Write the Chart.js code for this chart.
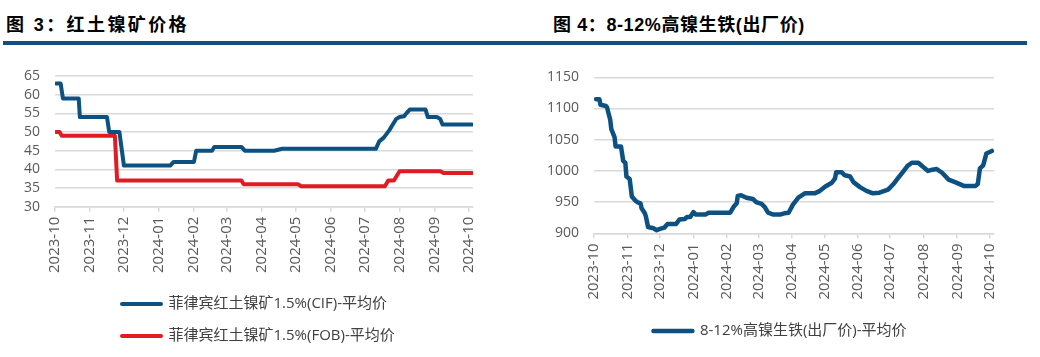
<!DOCTYPE html>
<html><head><meta charset="utf-8">
<script src="https://cdn.jsdelivr.net/npm/chart.js@4.4.1/dist/chart.umd.min.js"></script>
<style>
html,body{margin:0;padding:0;background:#fff;}
body{width:1040px;height:357px;position:relative;overflow:hidden;}
.title{position:absolute;top:15px;line-height:20px;font-weight:bold;font-size:18px;font-family:"Liberation Sans","Noto Sans CJK SC",sans-serif;color:#000;white-space:nowrap;}
.bar{position:absolute;left:3px;width:1024px;top:41px;height:3.5px;background:#0d5183;}
.box{position:absolute;top:50px;width:520px;height:307px;}
</style></head><body>
<div class="title" style="left:6px;letter-spacing:2.4px">图 3：红土镍矿价格</div>
<div class="title" style="left:553px;letter-spacing:0.6px">图 4：8-12%高镍生铁(出厂价)</div>
<div class="bar"></div>
<div class="box" style="left:0"><canvas id="c1" width="520" height="307"></canvas></div>
<div class="box" style="left:520px"><canvas id="c2" width="520" height="307"></canvas></div>
<script>
// ---- data ----
const tickLabels = ['2023-10','2023-11','2023-12','2024-01','2024-02','2024-03','2024-04','2024-05','2024-06','2024-07','2024-08','2024-09','2024-10'];
const oreYTicks = [30,35,40,45,50,55,60,65];
const npiYTicks = [900,950,1000,1050,1100,1150];

const cifName = '菲律宾红土镍矿1.5%(CIF)-平均价';
const cifDates = ['2023-10-02','2023-10-06','2023-10-08','2023-10-22','2023-10-23','2023-11-16','2023-11-18','2023-11-27','2023-12-01','2024-01-11','2024-01-14','2024-02-01','2024-02-03','2024-02-17','2024-02-19','2024-03-14','2024-03-17','2024-04-12','2024-04-19','2024-07-11','2024-07-14','2024-07-18','2024-07-23','2024-07-26','2024-07-29','2024-08-01','2024-08-05','2024-08-07','2024-08-10','2024-08-24','2024-08-26','2024-09-03','2024-09-06','2024-09-08','2024-10-04'];
const cifValues = [63,63,59,59,54,54,50,50,41,41,42,42,45,45,46,46,45,45,45.5,45.5,47.5,48.5,50.5,52,53.5,54,54.2,55,56,56,54,54,53.5,52,52];

const fobName = '菲律宾红土镍矿1.5%(FOB)-平均价';
const fobDates = ['2023-10-02','2023-10-05','2023-10-07','2023-11-23','2023-11-25','2024-03-14','2024-03-16','2024-05-03','2024-05-06','2024-07-19','2024-07-22','2024-07-27','2024-08-01','2024-09-06','2024-09-09','2024-10-04'];
const fobValues = [50,50,49,49,37,37,36,36,35.5,35.5,37,37,39.5,39.5,39,39];

const npiName = '8-12%高镍生铁(出厂价)-平均价';
const npiDates = ['2023-10-03','2023-10-06','2023-10-07','2023-10-12','2023-10-13','2023-10-16','2023-10-17','2023-10-20','2023-10-21','2023-10-26','2023-10-28','2023-10-30','2023-10-31','2023-11-03','2023-11-05','2023-11-08','2023-11-10','2023-11-13','2023-11-14','2023-11-17','2023-11-18','2023-11-20','2023-11-25','2023-11-28','2023-12-01','2023-12-05','2023-12-08','2023-12-16','2023-12-19','2023-12-24','2023-12-26','2023-12-29','2024-01-01','2024-01-03','2024-01-12','2024-01-15','2024-02-04','2024-02-07','2024-02-10','2024-02-11','2024-02-14','2024-02-19','2024-02-25','2024-02-28','2024-03-04','2024-03-07','2024-03-10','2024-03-15','2024-03-21','2024-03-25','2024-03-29','2024-04-02','2024-04-07','2024-04-13','2024-04-22','2024-04-27','2024-05-02','2024-05-08','2024-05-11','2024-05-12','2024-05-17','2024-05-20','2024-05-25','2024-05-28','2024-06-03','2024-06-09','2024-06-15','2024-06-21','2024-06-29','2024-07-04','2024-07-08','2024-07-13','2024-07-17','2024-07-21','2024-07-27','2024-07-31','2024-08-05','2024-08-09','2024-08-13','2024-08-18','2024-08-24','2024-08-30','2024-09-07','2024-09-18','2024-09-20','2024-09-22','2024-09-25','2024-09-28','2024-10-03'];
const npiValues = [1115,1115,1106,1104,1102,1082,1067,1054,1039,1039,1016,1013,991,987,959,953,950,948,940,932,927,910,908,905,907,909,915,915,922,923,926,926,934,930,930,933,933,942,948,960,961,957,955,950,947,942,933,930,930,932,933,946,957,964,964,968,975,981,988,998,998,993,991,982,974,968,964,965,970,979,988,999,1008,1013,1013,1007,1000,1002,1003,997,986,982,976,976,979,1004,1009,1028,1032];

// ---- helpers ----
const DAY0 = Date.parse('2023-10-01');
const dayOf = s => (Date.parse(s) - DAY0) / 864e5;
const tickDays = tickLabels.map(t => dayOf(t + '-01'));
const pts = (d, v) => d.map((s, i) => ({x: dayOf(s), y: v[i]}));
const FONT = '"Open Sans","Noto Sans CJK SC",sans-serif';
const BLUE = '#0d5183', RED = '#e01b24', GRID = '#d9d9d9', TICK = '#595959';

function ds(label, data, color, w) {
  return {label, data, borderColor: color, backgroundColor: color, borderWidth: w,
    pointRadius: 0, pointHoverRadius: 0, pointBorderWidth: w, tension: 0,
    borderCapStyle: 'round', borderJoinStyle: 'round', fill: false};
}

function make(id, datasets, yTicks, cfg) {
  return new Chart(document.getElementById(id), {
    type: 'line',
    data: {datasets},
    plugins: [{
      id: 'legendShift',
      afterLayout(chart) { if (cfg.legLeft !== undefined) { chart.legend.left = cfg.legLeft; } }
    }],
    options: {
      responsive: false, animation: false, devicePixelRatio: 1,
      layout: {padding: {top: cfg.top, bottom: cfg.bottom, left: 0, right: 0}},
      plugins: {
        tooltip: {enabled: false},
        legend: {
          position: 'bottom',
          align: cfg.legAlign,
          labels: {
            usePointStyle: true, pointStyle: 'line', pointStyleWidth: 39,
            padding: cfg.legPad, color: '#404040', font: {size: 15, family: FONT},
            generateLabels: (chart) => Chart.defaults.plugins.legend.labels.generateLabels(chart).map(l => {
              const d = chart.data.datasets[l.datasetIndex];
              return Object.assign(l, {lineCap: 'round', lineWidth: d.borderWidth, strokeStyle: d.borderColor, fillStyle: d.borderColor});
            })
          }
        }
      },
      scales: {
        x: {
          type: 'linear', min: 0, max: 370,
          afterBuildTicks: s => { s.ticks = tickDays.map(v => ({value: v})); },
          afterFit: s => { s.height = cfg.xh; },
          ticks: {autoSkip: false, minRotation: 90, maxRotation: 90, padding: 5, color: TICK,
            font: {size: 15, family: FONT}, callback: (v, i) => tickLabels[i]},
          grid: {display: true, drawOnChartArea: false, drawTicks: true, tickLength: 5, color: GRID, lineWidth: 1.5},
          border: {display: true, color: GRID, width: 1.5}
        },
        y: {
          min: yTicks[0], max: yTicks[yTicks.length - 1],
          afterBuildTicks: s => { s.ticks = yTicks.map(v => ({value: v})); },
          afterFit: s => { s.width = cfg.yw; },
          ticks: {autoSkip: false, padding: 15, color: TICK, font: {size: 14, family: FONT},
            callback: (v) => String(v)},
          grid: {color: GRID, lineWidth: 1.5, drawTicks: false},
          border: {display: false}
        },
        yr: {
          position: 'right', display: true,
          afterFit: s => { s.width = cfg.rw; },
          ticks: {display: false}, grid: {display: false}, border: {display: false}
        }
      }
    }
  });
}

make('c1', [ds(cifName, pts(cifDates, cifValues), BLUE, 4), ds(fobName, pts(fobDates, fobValues), RED, 4)],
  oreYTicks, {top: 26, bottom: 3.5, legPad: 17, xh: 72.8, yw: 55, rw: 47, legAlign: 'start', legLeft: 105});
make('c2', [ds(npiName, pts(npiDates, npiValues), BLUE, 4.5)],
  npiYTicks, {top: 27.3, bottom: 8.5, legPad: 10, xh: 80.2, yw: 74, rw: 46, legAlign: 'center'});
</script>
</body></html>
